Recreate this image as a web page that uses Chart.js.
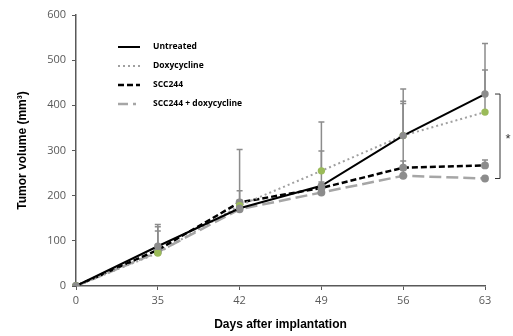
<!DOCTYPE html>
<html>
<head>
<meta charset="utf-8">
<script src="https://cdn.jsdelivr.net/npm/chart.js@4.4.1/dist/chart.umd.min.js"></script>
<style>
  html, body { margin: 0; padding: 0; background: #fff; }
  #wrap { width: 513px; height: 336px; position: relative; }
</style>
</head>
<body>
<div id="wrap"><canvas id="tumorChart"></canvas></div>
<script>
// days after implantation
const days = ['0', '35', '42', '49', '56', '63'];
const yTicks = [0, 100, 200, 300, 400, 500, 600];

// mean tumor volume (mm3)
const untreated = [0, 88, 172, 222, 333, 425];
const doxycycline = [0, 73, 178, 255, 333, 385];
const scc244 = [0, 80, 185, 217, 262, 267];
const scc244Doxy = [0, 75, 170, 207, 244, 238];

// top of the error bars (mean + SD)
const untreatedTop = [null, 136, 302, 363, 436, 537];
const doxycyclineTop = [null, 131, 211, 299, 409, 478];
const scc244Top = [null, 122, 190, 230, 277, 279];
const scc244DoxyTop = [null, null, null, null, 404, null];

const seriesNames = ['Untreated', 'Doxycycline', 'SCC244', 'SCC244 + doxycycline'];

const errorBars = {
    id: 'errorBars',
    beforeDatasetsDraw(chart) {
        const ctx = chart.ctx;
        const y = chart.scales.y;
        ctx.save();
        ctx.strokeStyle = '#8c8c8c';
        ctx.lineWidth = 1.5;
        chart.data.datasets.forEach((ds, i) => {
            const meta = chart.getDatasetMeta(i);
            ds.errTop.forEach((top, j) => {
                if (top == null) return;
                const px = meta.data[j].x;
                const py = meta.data[j].y;
                const ty = y.getPixelForValue(top);
                ctx.beginPath();
                ctx.moveTo(px, py);
                ctx.lineTo(px, ty);
                ctx.moveTo(px - 3, ty);
                ctx.lineTo(px + 3, ty);
                ctx.stroke();
            });
        });
        ctx.restore();
    }
};

const extras = {
    id: 'extras',
    afterDraw(chart) {
        const ctx = chart.ctx;
        const y = chart.scales.y;
        const x = chart.scales.x;
        ctx.save();
        // legend
        const rows = [47, 66, 85, 104];
        chart.data.datasets.forEach((ds, i) => {
            ctx.strokeStyle = ds.borderColor;
            ctx.lineWidth = ds.borderWidth;
            ctx.setLineDash(ds.legendDash);
            ctx.beginPath();
            ctx.moveTo(118, rows[i]);
            ctx.lineTo(140, rows[i]);
            ctx.stroke();
            ctx.setLineDash([]);
            ctx.fillStyle = '#000';
            ctx.font = 'bold 8.5px "Open Sans", sans-serif';
            ctx.textBaseline = 'middle';
            ctx.fillText(seriesNames[i], 153, rows[i]);
        });
        // significance bracket at day 63
        const bx = x.getPixelForValue(5) + 10;
        const t = y.getPixelForValue(untreated[5]);
        const b = y.getPixelForValue(scc244Doxy[5]);
        ctx.strokeStyle = '#333';
        ctx.lineWidth = 1;
        ctx.beginPath();
        ctx.moveTo(bx, t);
        ctx.lineTo(bx + 5, t);
        ctx.lineTo(bx + 5, b);
        ctx.lineTo(bx, b);
        ctx.stroke();
        ctx.fillStyle = '#333';
        ctx.font = '13px "Liberation Sans", sans-serif';
        ctx.textAlign = 'center';
        ctx.textBaseline = 'middle';
        ctx.fillText('*', bx + 13, (t + b) / 2 + 3);
        ctx.restore();
    }
};

const mkSet = (label, data, top, color, width, dash, legendDash, ptColor) => ({
    label: label,
    data: data,
    errTop: top,
    borderColor: color,
    borderWidth: width,
    borderDash: dash,
    legendDash: legendDash,
    pointRadius: 2.7,
    pointBackgroundColor: ptColor,
    pointBorderColor: ptColor,
    fill: false,
    tension: 0
});

new Chart(document.getElementById('tumorChart'), {
    type: 'line',
    data: {
        labels: days,
        datasets: [
            mkSet('Untreated', untreated, untreatedTop, '#000000', 2, [], [], '#8c8c8c'),
            mkSet('Doxycycline', doxycycline, doxycyclineTop, '#a0a0a0', 2, [2, 3], [2, 3], '#9bbb59'),
            mkSet('SCC244', scc244, scc244Top, '#000000', 2.5, [6, 3], [6, 3], '#8c8c8c'),
            mkSet('SCC244 + doxycycline', scc244Doxy, scc244DoxyTop, '#a6a6a6', 2.5, [12, 5], [10, 5, 3, 5], '#8c8c8c')
        ]
    },
    options: {
        responsive: true,
        maintainAspectRatio: false,
        animation: false,
        layout: { padding: { top: 15, right: 28, left: 0, bottom: 0 } },
        plugins: { legend: { display: false }, tooltip: { enabled: false } },
        scales: {
            x: {
                type: 'category',
                offset: false,
                grid: { display: true, drawOnChartArea: false, drawTicks: true, tickLength: 4, color: '#595959' },
                border: { display: true, color: '#595959', width: 1.5 },
                ticks: { color: '#595959', font: { size: 11, family: '"Open Sans", sans-serif' }, padding: 4 },
                title: { display: true, text: 'Days after implantation', color: '#000',
                         font: { size: 12, weight: 'bold', family: '"Liberation Sans", Arial, sans-serif' }, padding: { top: 6 } },
                afterFit(scale) { scale.height = 50; }
            },
            y: {
                min: 0,
                max: 600,
                afterBuildTicks(scale) { scale.ticks = yTicks.map(v => ({ value: v })); },
                grid: { display: true, drawOnChartArea: false, drawTicks: true, tickLength: 4, color: '#595959' },
                border: { display: true, color: '#595959', width: 1.5 },
                ticks: { color: '#595959', font: { size: 11, family: '"Open Sans", sans-serif' }, padding: 6 },
                title: { display: true, text: 'Tumor volume (mm\u00b3)', color: '#000',
                         font: { size: 12, weight: 'bold', family: '"Liberation Sans", Arial, sans-serif' }, padding: { top: 15, bottom: 8 } },
                afterFit(scale) { scale.width = 76; }
            }
        }
    },
    plugins: [errorBars, extras]
});
</script>
</body>
</html>
